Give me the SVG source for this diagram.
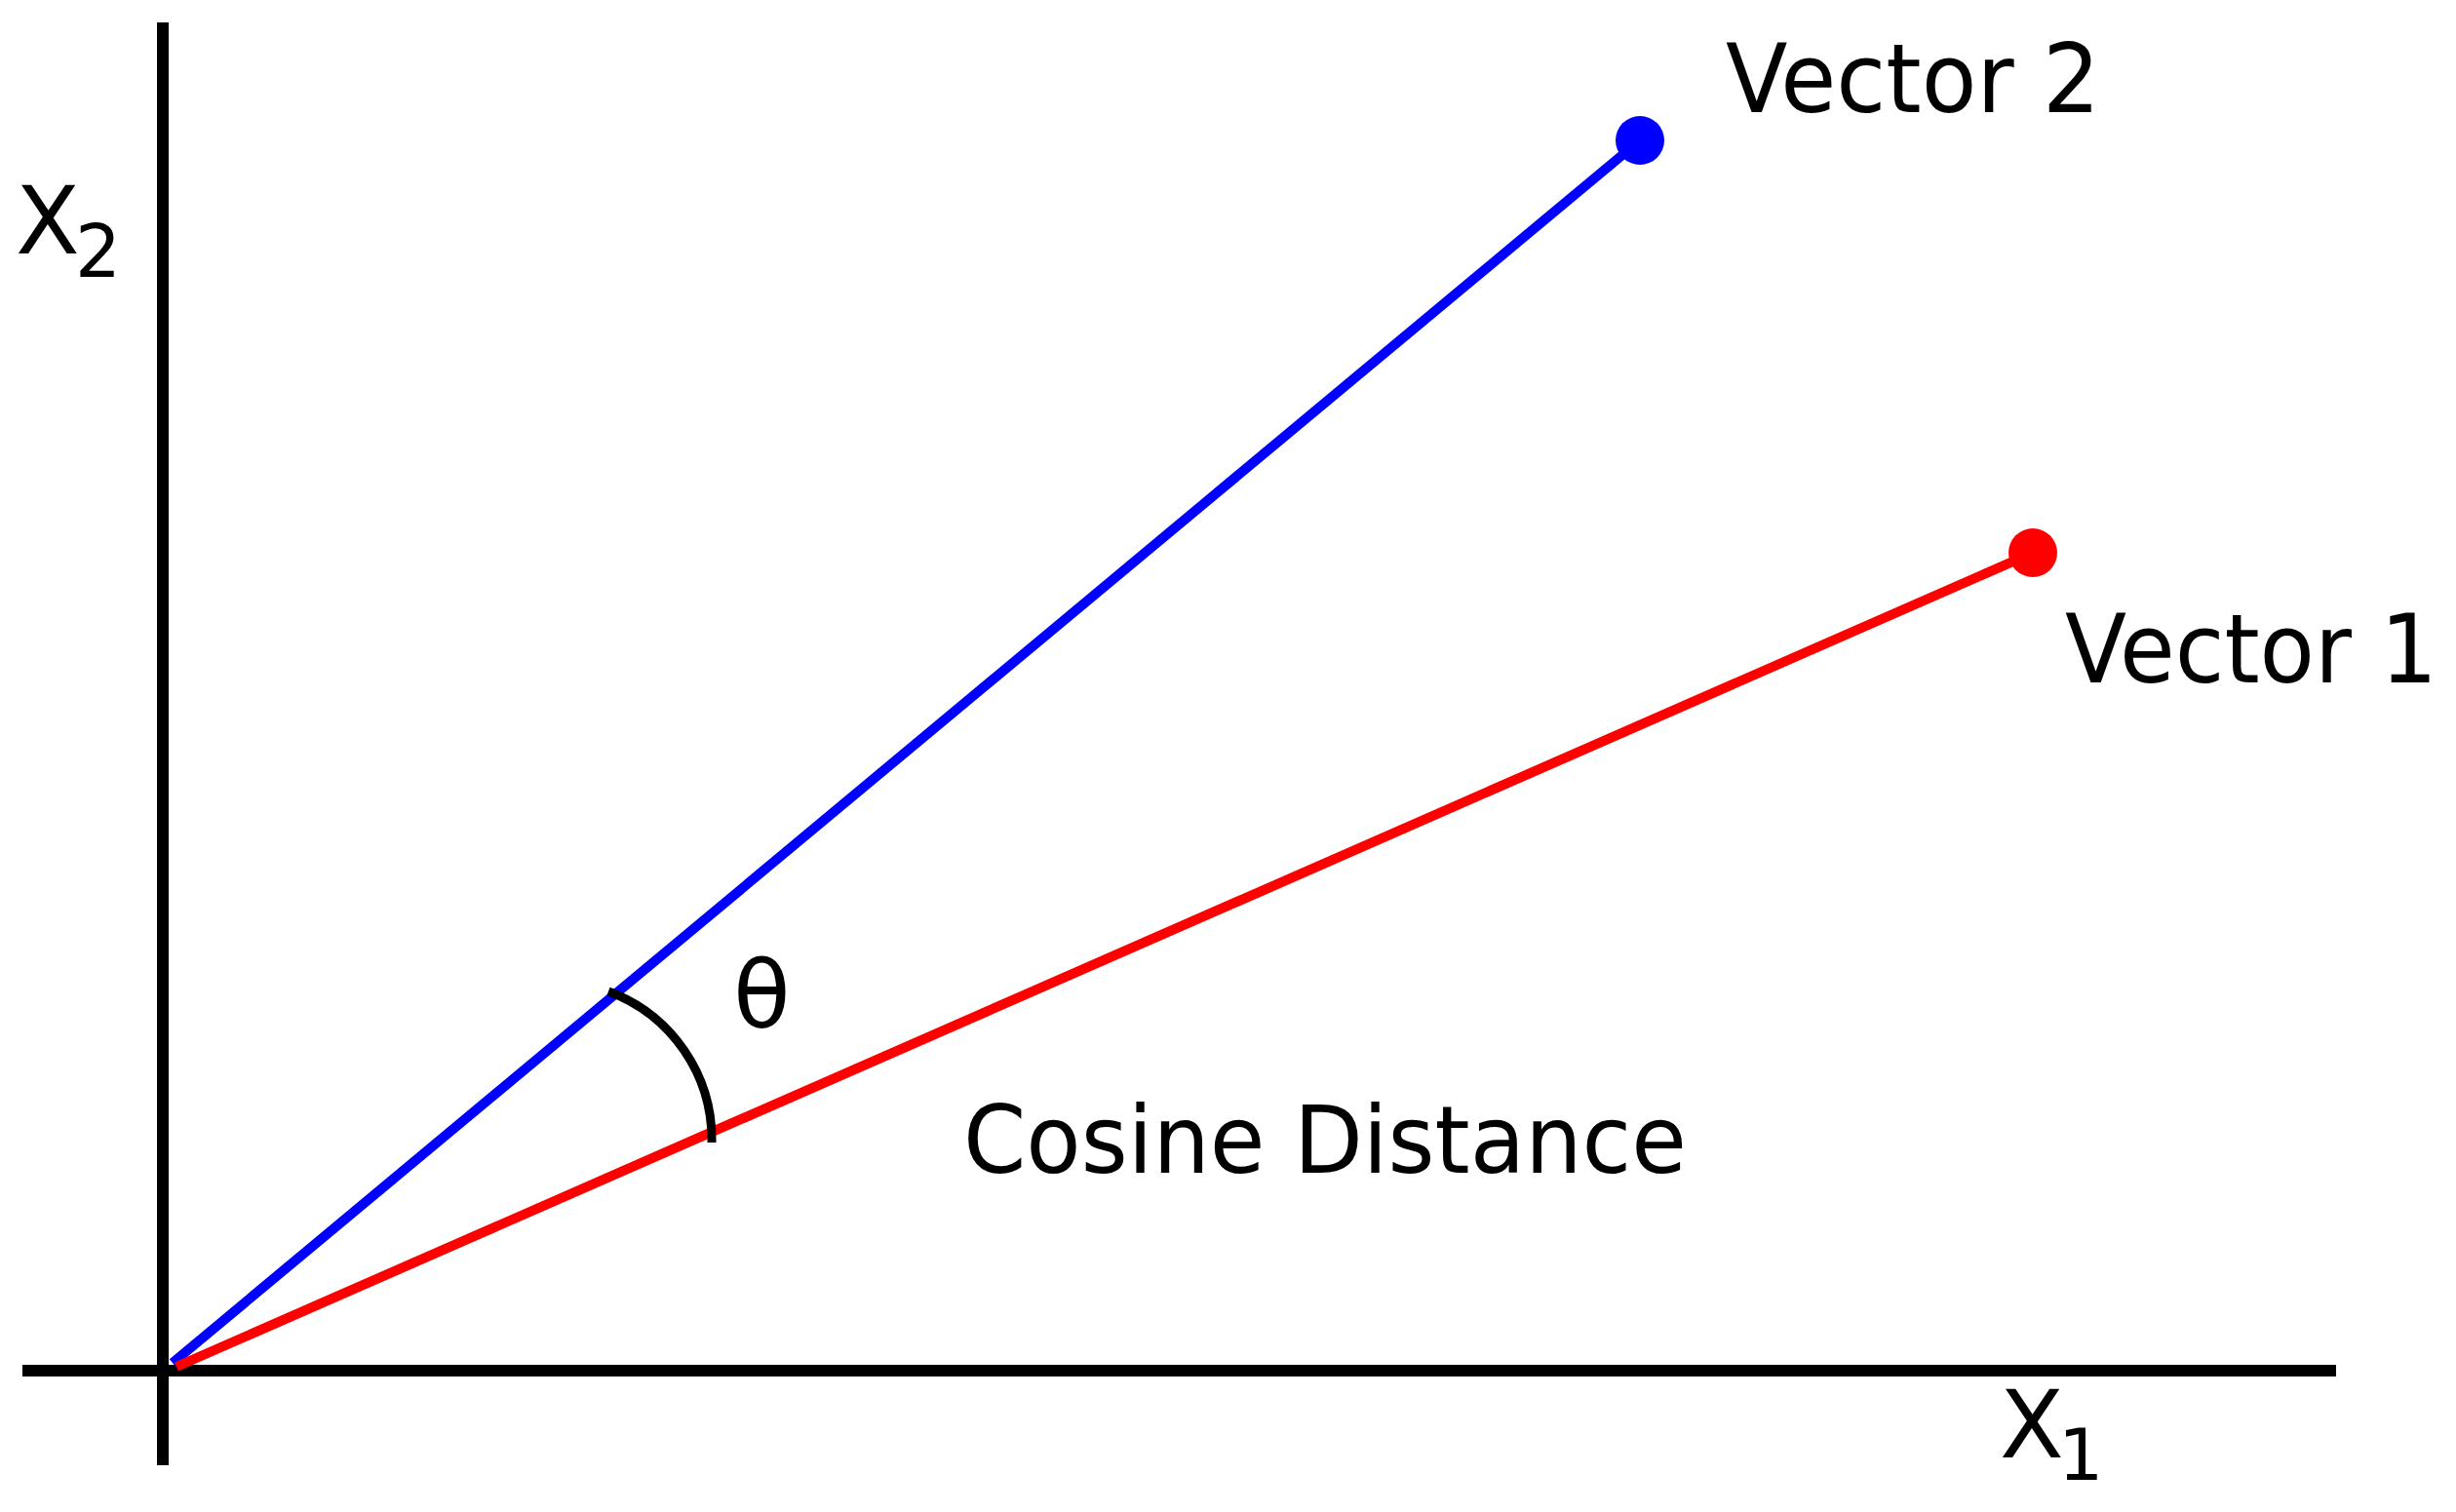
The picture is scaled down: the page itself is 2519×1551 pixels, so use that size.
<svg xmlns="http://www.w3.org/2000/svg" width="2519" height="1551" viewBox="0 0 2519 1551">
<style>
  .axis { stroke: #000; stroke-width: 12; fill: none; }
  .vec { stroke-width: 10; fill: none; stroke-linecap: butt; }
  .lbl { font-family: "DejaVu Sans", "Liberation Sans", sans-serif; fill: #000; }
</style>
<rect x="0" y="0" width="2519" height="1551" fill="#fff"/>
<g id="connectors">
  <line id="x-axis" class="axis" x1="23" y1="1406" x2="2396" y2="1406"/>
  <line id="y-axis" class="axis" x1="167" y1="23" x2="167" y2="1503"/>
  <line id="vector2-line" class="vec" stroke="#0000ff" x1="177" y1="1398" x2="1682" y2="144"/>
  <line id="vector1-line" class="vec" stroke="#ff0000" x1="181" y1="1402" x2="2085" y2="567"/>
  <path id="angle-arc" d="M 624 1017 A 162 162 0 0 1 730 1172" stroke="#000" stroke-width="9" fill="none"/>
</g>
<g id="vector2">
  <circle cx="1682" cy="144" r="25" fill="#0000ff"/>
  <text class="lbl" x="1770" y="115" font-size="98" textLength="384" lengthAdjust="spacingAndGlyphs">Vector 2</text>
</g>
<g id="vector1">
  <circle cx="2085" cy="567" r="25" fill="#ff0000"/>
  <text class="lbl" x="2118" y="700" font-size="98" textLength="382" lengthAdjust="spacingAndGlyphs">Vector 1</text>
</g>
<g id="theta">
  <text class="lbl" x="752" y="1054" font-size="96">θ</text>
</g>
<g id="cosine-distance">
  <text class="lbl" x="988" y="1203" font-size="96" textLength="742" lengthAdjust="spacingAndGlyphs">Cosine Distance</text>
</g>
<g id="x2-label">
  <text class="lbl" x="16" y="260" font-size="96">X</text>
  <text class="lbl" x="77" y="284" font-size="74">2</text>
</g>
<g id="x1-label">
  <text class="lbl" x="2051" y="1495" font-size="96">X</text>
  <text class="lbl" x="2111" y="1518" font-size="73">1</text>
</g>
</svg>
